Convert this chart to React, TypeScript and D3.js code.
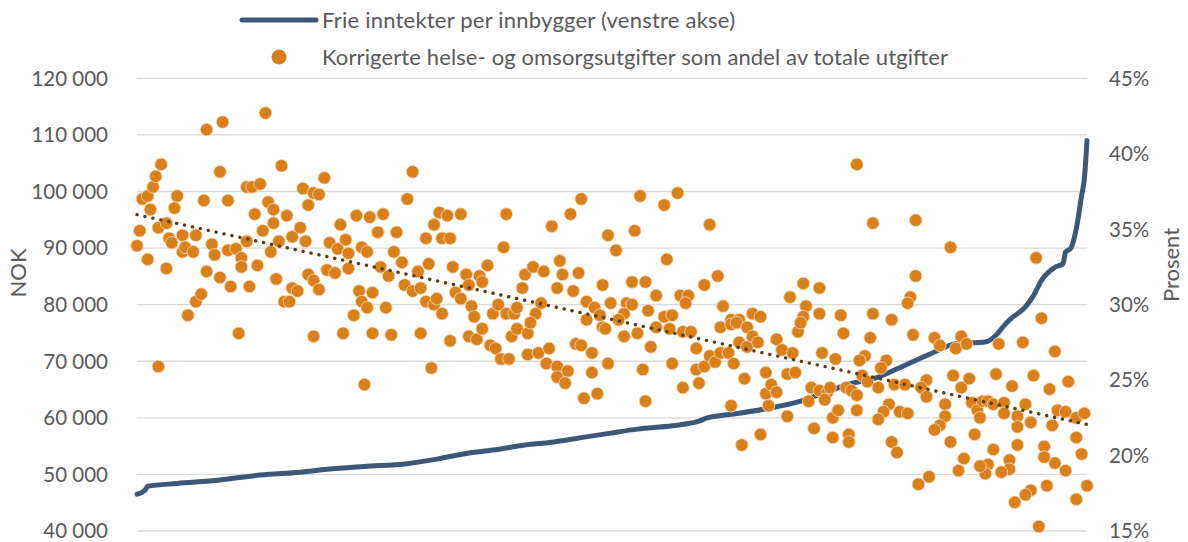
import React, { useEffect, useRef } from 'react';
import * as d3 from 'd3';

// Frie inntekter per innbygger, kommuner sortert etter inntekt (rang, NOK)
const inntektRang = [1, 4, 5, 16, 32, 47, 62, 72, 86, 102, 113, 124, 134, 146, 156, 167, 178, 188, 201, 211, 214, 226, 236, 248, 253, 263, 266, 278, 288, 298, 307, 318, 322, 325, 327, 333, 336, 339, 344, 347, 348, 350, 352, 354, 355, 356];
const inntektNok = [46500, 47200, 47900, 48400, 49000, 49900, 50400, 50900, 51400, 51900, 52700, 53700, 54300, 55200, 55700, 56500, 57300, 58000, 58600, 59400, 60000, 60800, 61600, 62800, 63600, 65300, 65800, 67200, 69300, 71400, 73100, 73400, 74600, 76300, 77300, 79600, 81600, 84300, 86600, 87200, 89300, 90000, 93400, 99300, 102200, 109000];

// Korrigerte helse- og omsorgsutgifter som andel av totale utgifter (rang, prosent)
const helseAndel: [number, number][] = [
  [1, 33.9], [2, 34.9], [3, 37.0], [5, 37.2], [6, 36.3], [7, 37.8], [8, 38.5], [10, 39.3], [5, 33.0], [9, 35.1], [12, 35.4], [12, 32.4], [13, 34.4], [14, 34.1], [15, 36.4], [16, 37.2], [18, 34.6], [18, 33.5], [19, 33.8], [20, 29.3], [22, 33.5], [23, 34.6], [23, 30.2], [25, 30.7], [26, 36.9], [27, 32.2], [27, 41.6], [29, 34.0], [30, 33.3], [32, 38.8], [32, 31.8], [33, 42.1], [35, 36.9], [35, 33.6], [36, 31.2], [38, 33.7], [40, 33.1], [40, 32.5], [42, 37.8], [42, 34.2], [43, 31.2], [44, 37.8], [45, 36.0], [46, 32.6], [47, 38.0], [48, 34.9], [49, 42.7], [50, 36.8], [51, 33.5], [52, 36.3], [52, 35.4], [53, 31.7], [54, 34.2], [55, 39.2], [56, 30.2], [57, 35.9], [58, 30.2], [59, 31.1], [59, 34.5], [61, 30.9], [62, 35.1], [63, 37.7], [64, 34.2], [65, 32.0], [65, 36.6], [67, 31.6], [67, 37.4], [69, 31.0], [69, 37.3], [71, 38.4], [72, 32.3], [73, 34.1], [75, 32.1], [76, 33.7], [77, 35.3], [79, 34.3], [80, 32.4], [80, 33.4], [83, 35.9], [84, 30.9], [85, 30.2], [85, 33.8], [87, 33.5], [87, 29.8], [88, 35.8], [89, 30.8], [82, 29.3],
  [9, 25.9], [39, 28.1], [67, 27.9], [78, 28.1], [89, 28.1], [86, 24.7],
  [91, 34.8], [92, 32.5], [93, 36.0], [94, 29.8], [95, 31.9], [97, 33.5], [98, 34.8], [100, 32.8], [101, 31.3], [102, 37.0], [104, 30.9], [104, 38.8], [106, 32.2], [107, 31.1], [109, 30.2], [109, 34.4], [110, 32.7], [112, 30.0], [112, 35.3], [113, 30.4], [114, 36.1], [115, 34.4], [115, 29.4], [117, 35.9], [118, 34.4], [119, 32.5], [120, 30.8], [122, 36.0], [122, 30.4], [124, 32.0], [125, 31.3], [126, 29.9], [127, 29.2], [129, 31.9], [130, 31.5], [132, 32.6], [134, 29.4], [136, 30.0], [138, 33.8], [139, 36.0], [139, 29.4], [142, 29.4], [143, 29.8], [145, 31.1], [146, 32.0], [149, 32.5], [150, 29.4], [152, 30.1], [153, 32.2], [156, 35.2], [158, 31.1], [159, 32.9], [160, 32.0], [163, 36.0], [164, 30.9], [166, 32.1], [167, 37.0], [169, 30.2], [172, 29.8], [175, 31.3], [177, 34.6], [178, 30.1], [174, 29.3],
  [96, 28.0], [107, 28.1], [111, 25.8], [118, 27.6], [125, 27.9], [128, 27.7], [130, 28.4], [133, 27.3], [135, 27.1], [137, 26.4], [140, 26.4], [141, 27.9], [143, 28.4], [147, 28.1], [148, 28.8], [147, 26.7], [151, 26.8], [155, 27.1], [154, 26.1], [158, 25.9], [158, 25.2], [162, 25.6], [161, 24.8], [165, 27.4], [167, 27.3], [171, 26.8], [171, 25.5], [168, 23.8], [173, 24.1], [169, 29.0], [175, 28.5], [177, 26.1],
  [180, 33.6], [184, 30.1], [186, 30.0], [183, 29.4], [186, 31.5], [187, 34.9], [189, 37.2], [191, 31.5], [192, 29.6], [195, 30.6], [198, 36.6], [198, 29.2], [199, 33.0], [201, 29.3], [203, 37.4], [204, 30.6], [207, 30.6], [206, 30.1], [213, 31.3], [215, 35.3], [218, 31.9], [220, 29.9], [223, 29.0], [226, 29.0], [231, 29.4], [234, 29.2], [245, 30.5], [250, 31.4], [251, 29.9], [250, 29.2], [256, 29.4], [256, 31.1], [264, 29.3], [270, 39.3],
  [176, 28.4], [181, 29.0], [183, 27.9], [188, 28.1], [190, 25.7], [191, 23.6], [193, 27.2], [195, 28.5], [200, 28.4], [201, 26.1], [205, 28.2], [205, 24.5], [208, 28.2], [210, 27.1], [211, 24.8], [210, 25.7], [213, 25.9], [215, 26.6], [217, 26.2], [219, 28.5], [219, 26.8], [222, 26.8], [223, 28.7], [224, 26.1], [223, 23.3], [225, 28.8], [226, 27.5], [227, 20.7], [228, 25.1], [229, 27.2], [229, 28.5], [231, 27.9], [233, 27.5], [234, 21.4], [236, 25.5], [236, 24.1], [238, 24.7], [240, 24.2], [237, 23.3], [240, 27.7], [242, 27.0], [244, 22.6], [244, 25.4], [246, 26.8], [247, 25.5], [248, 28.2], [249, 28.8], [252, 23.6], [253, 24.5], [254, 21.8], [256, 24.3], [257, 26.8], [259, 24.2], [258, 23.7], [260, 24.5], [261, 22.5], [263, 23.0], [261, 21.2], [262, 26.4], [265, 28.1], [266, 24.5], [267, 21.4], [267, 20.9],
  [276, 35.4], [292, 35.6], [305, 33.8], [292, 31.9], [290, 30.5], [289, 30.1], [276, 29.4], [283, 29.0], [337, 33.1], [339, 29.1],
  [275, 27.8], [291, 28.0], [299, 27.8], [301, 27.3], [307, 27.1], [309, 27.9], [311, 27.4], [323, 27.4], [332, 27.5], [344, 26.9], [273, 26.6], [271, 26.3], [281, 26.3], [279, 25.8], [272, 25.3], [274, 24.9], [278, 24.5], [268, 24.3], [270, 24.0], [284, 24.7], [288, 24.7], [296, 25.0], [294, 24.5], [296, 23.9], [270, 23.0], [282, 23.4], [280, 22.9], [278, 22.4], [286, 22.9], [289, 22.8], [283, 20.9], [285, 20.2], [303, 23.4], [303, 22.6], [301, 22.0], [299, 21.7], [305, 20.9], [306, 25.3], [309, 24.5], [312, 25.1], [313, 23.5], [315, 23.0], [316, 22.5], [317, 23.6], [319, 23.6], [321, 23.4], [325, 23.5], [325, 22.8], [314, 21.4], [322, 25.4], [328, 24.6], [333, 23.4], [330, 22.6], [335, 22.2], [330, 21.9], [336, 25.3], [342, 24.4], [349, 24.9], [345, 23.0], [348, 22.9], [352, 22.5], [355, 22.8], [343, 22.0], [352, 21.2], [354, 20.1], [340, 20.6], [340, 19.9], [330, 20.7], [321, 20.4], [327, 19.7], [327, 19.1], [324, 18.9], [319, 19.4], [318, 18.8], [316, 19.3], [310, 19.8], [308, 19.0], [297, 18.6], [293, 18.1], [344, 19.5], [348, 19.0], [341, 18.0], [335, 17.7], [333, 17.4], [329, 16.9], [356, 18.0], [352, 17.1], [338, 15.3],
];

const venstreTicks = [40000, 50000, 60000, 70000, 80000, 90000, 100000, 110000, 120000];
const hoyreTicks = [15, 20, 25, 30, 35, 40, 45];

const W = 1188;
const H = 542;
const FONT = 'Lato, "Noto Sans", sans-serif';
const GRAY = '#595959';
const NAVY = '#3b5878';
const ORANGE = '#d9801b';

const App = () => {
  const svgRef = useRef<SVGSVGElement>(null);

  useEffect(() => {
    document.body.style.margin = '0';
    const svg = d3.select(svgRef.current);
    svg.selectAll('*').remove();

    const plot = { left: 137, right: 1087, top: 78.3, bottom: 531 };

    const x = d3.scaleLinear().domain([1, 356]).range([plot.left, plot.right]);
    const yNok = d3.scaleLinear().domain([40000, 120000]).range([plot.bottom, plot.top]);
    const yPst = d3.scaleLinear().domain([15, 45]).range([plot.bottom, plot.top]);

    // gridlines
    svg.append('g')
      .selectAll('line')
      .data(venstreTicks)
      .join('line')
      .attr('x1', plot.left)
      .attr('x2', plot.right)
      .attr('y1', (d) => yNok(d))
      .attr('y2', (d) => yNok(d))
      .attr('stroke', '#d9d9d9')
      .attr('stroke-width', 1.3);

    // left axis labels
    svg.append('g')
      .selectAll('text')
      .data(venstreTicks)
      .join('text')
      .attr('x', 108)
      .attr('y', (d) => yNok(d))
      .attr('dy', '0.36em')
      .attr('text-anchor', 'end')
      .attr('fill', GRAY)
      .attr('font-family', FONT)
      .attr('font-size', 20.5)
      .text((d) => d3.format(',')(d).replace(/,/g, ' '));

    // right axis labels
    svg.append('g')
      .selectAll('text')
      .data(hoyreTicks)
      .join('text')
      .attr('x', 1109)
      .attr('y', (d) => yPst(d))
      .attr('dy', '0.36em')
      .attr('fill', GRAY)
      .attr('font-family', FONT)
      .attr('font-size', 20.5)
      .text((d) => `${d}%`);

    // axis titles
    svg.append('text')
      .attr('transform', 'translate(26,273) rotate(-90)')
      .attr('text-anchor', 'middle')
      .attr('fill', GRAY)
      .attr('font-family', FONT)
      .attr('font-size', 22)
      .text('NOK');

    svg.append('text')
      .attr('transform', 'translate(1179,265) rotate(-90)')
      .attr('text-anchor', 'middle')
      .attr('fill', GRAY)
      .attr('font-family', FONT)
      .attr('font-size', 22)
      .text('Prosent');

    // income line
    const lineData = inntektRang.map((r, i) => [r, inntektNok[i]] as [number, number]);
    const line = d3.line<[number, number]>()
      .x((d) => x(d[0]))
      .y((d) => yNok(d[1]))
      .curve(d3.curveMonotoneX);

    svg.append('path')
      .datum(lineData)
      .attr('fill', 'none')
      .attr('stroke', NAVY)
      .attr('stroke-width', 5)
      .attr('stroke-linejoin', 'round')
      .attr('stroke-linecap', 'round')
      .attr('d', line);

    // scatter
    svg.append('g')
      .selectAll('circle')
      .data(helseAndel)
      .join('circle')
      .attr('cx', (d) => x(d[0]))
      .attr('cy', (d) => yPst(d[1]))
      .attr('r', 6.3)
      .attr('fill', ORANGE)
      .attr('stroke', '#f7dcc0')
      .attr('stroke-width', 0.8);

    // linear trend (least squares)
    const mx = d3.mean(helseAndel, (d) => d[0]) as number;
    const my = d3.mean(helseAndel, (d) => d[1]) as number;
    const sxy = d3.sum(helseAndel, (d) => (d[0] - mx) * (d[1] - my));
    const sxx = d3.sum(helseAndel, (d) => (d[0] - mx) ** 2);
    const slope = sxy / sxx;
    const icpt = my - slope * mx;
    const trend: [number, number][] = [[1, icpt + slope], [356, icpt + slope * 356]];

    svg.append('path')
      .datum(trend)
      .attr('fill', 'none')
      .attr('stroke', '#5c3a12')
      .attr('stroke-width', 3.4)
      .attr('stroke-linecap', 'round')
      .attr('stroke-dasharray', '0.1 8')
      .attr('d', d3.line<[number, number]>().x((d) => x(d[0])).y((d) => yPst(d[1])));

    // legend
    const legend = svg.append('g').attr('font-family', FONT).attr('font-size', 22).attr('fill', GRAY);
    legend.append('line')
      .attr('x1', 242).attr('x2', 316)
      .attr('y1', 20).attr('y2', 20)
      .attr('stroke', NAVY)
      .attr('stroke-width', 5)
      .attr('stroke-linecap', 'round');
    legend.append('text')
      .attr('x', 322).attr('y', 27.5)
      .attr('textLength', 413)
      .attr('lengthAdjust', 'spacing')
      .text('Frie inntekter per innbygger (venstre akse)');
    legend.append('circle')
      .attr('cx', 279).attr('cy', 57).attr('r', 7.5)
      .attr('fill', ORANGE);
    legend.append('text')
      .attr('x', 322).attr('y', 65)
      .attr('textLength', 626)
      .attr('lengthAdjust', 'spacing')
      .text('Korrigerte helse- og omsorgsutgifter som andel av totale utgifter');
  }, []);

  return (
    <svg ref={svgRef} width={W} height={H} style={{ display: 'block', background: '#fff' }}></svg>
  );
};

export default App;
